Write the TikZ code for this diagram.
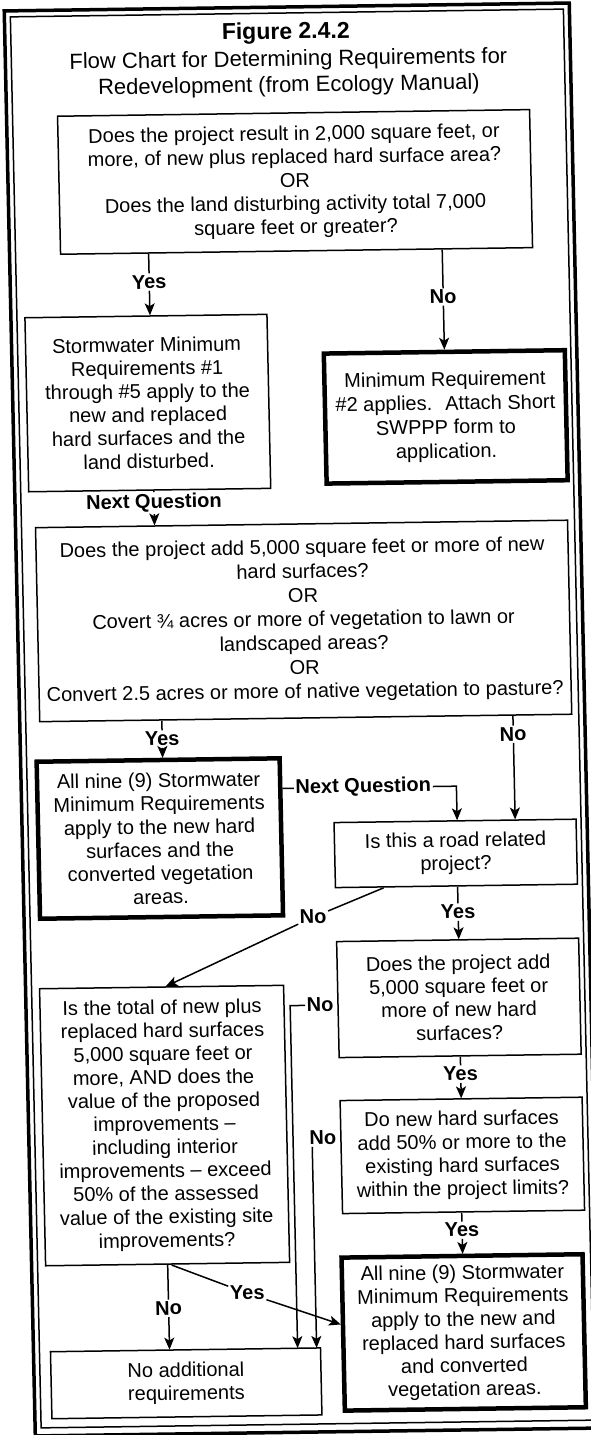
\documentclass[tikz,border=0pt]{standalone}
\usepackage{fontspec}
\setmainfont{Liberation Sans}
\usetikzlibrary{arrows.meta}
\begin{document}
\begin{tikzpicture}[x=1pt,y=-1pt,
  box/.style={draw, line width=1.5pt, align=center, inner sep=0pt, font=\fontsize{20}{23.3}\selectfont},
  tbox/.style={box, line width=4.5pt},
  lbl/.style={font=\bfseries\fontsize{20}{22}\selectfont, inner sep=1.5pt},
  ln/.style={line width=1.5pt},
  arr/.style={ln, -{Stealth[length=12pt,width=10pt,inset=3pt]}},
  ttl/.style={font=\fontsize{22}{26}\selectfont, anchor=base}]
\fill[white] (0,0) rectangle (591,1435);
\useasboundingbox (0,0) rectangle (591,1435);
\begin{scope}[cm={1,0.014,-0.0218,1,(0,0)}, transform shape]
% frame
\draw[line width=3.5pt] (4,11) rectangle (569,1436);
\draw[line width=1.5pt] (10,17) rectangle (563,1428);
% title
\node[ttl, font=\bfseries\fontsize{23}{26}\selectfont] (t1) at (285,43) {Figure 2.4.2};
\node[ttl] (t2) at (287,70) {Flow Chart for Determining Requirements for};
\node[ttl] (t3) at (287,96) {Redevelopment (from Ecology Manual)};
% boxes
\node[box, minimum width=472pt, minimum height=138pt, font=\fontsize{20}{23.4}\selectfont] (q1) at (291,186)
 {Does the project result in 2,000 square feet, or\\ more, of new plus replaced hard surface area?\\ OR\\ Does the land disturbing activity total 7,000\\ square feet or greater?};
\node[box, minimum width=242pt, minimum height=174pt] (r15) at (139,405)
 {Stormwater Minimum\\ Requirements \#1\\ through \#5 apply to the\\ new and replaced\\ hard surfaces and the\\ land disturbed.};
\node[tbox, minimum width=241pt, minimum height=130pt, font=\fontsize{20}{24}\selectfont] (min2) at (436.5,423)
 {Minimum Requirement\\ \#2 applies.~ Attach Short\\ SWPPP form to\\ application.};
\node[box, minimum width=532pt, minimum height=194pt, font=\fontsize{20}{24}\selectfont] (q2) at (290,625)
 {Does the project add 5,000 square feet or more of new\\ hard surfaces?\\ OR\\ Covert ¾ acres or more of vegetation to lawn or\\ landscaped areas?\\ OR\\ Convert 2.5 acres or more of native vegetation to pasture?};
\node[tbox, minimum width=243pt, minimum height=157pt] (all9a) at (141.5,840.5)
 {All nine (9) Stormwater\\ Minimum Requirements\\ apply to the new hard\\ surfaces and the\\ converted vegetation\\ areas.};
\node[box, minimum width=242pt, minimum height=65pt] (road) at (437,859.5)
 {Is this a road related\\ project?};
\node[box, minimum width=242pt, minimum height=116pt] (doesadd) at (437,1004)
 {Does the project add\\ 5,000 square feet or\\ more of new hard\\ surfaces?};
\node[box, minimum width=244pt, minimum height=277pt] (istotal) at (140,1127.5)
 {Is the total of new plus\\ replaced hard surfaces\\ 5,000 square feet or\\ more, AND does the\\ value of the proposed\\ improvements –\\ including interior\\ improvements – exceed\\ 50\% of the assessed\\ value of the existing site\\ improvements?};
\node[box, minimum width=242pt, minimum height=113pt] (donew) at (437,1161.5)
 {Do new hard surfaces\\ add 50\% or more to the\\ existing hard surfaces\\ within the project limits?};
\node[tbox, minimum width=241pt, minimum height=153pt] (all9b) at (434.5,1338.5)
 {All nine (9) Stormwater\\ Minimum Requirements\\ apply to the new and\\ replaced hard surfaces\\ and converted\\ vegetation areas.};
\node[box, minimum width=270pt, minimum height=67pt] (noadd) at (156,1385.5)
 {No additional\\ requirements};
% labels
\node[lbl] (yes1) at (143,284) {Yes};
\node[lbl] (no1) at (436.5,303) {No};
\node[lbl] (nq1) at (143,505) {Next Question};
\node[lbl] (yes2) at (146,741) {Yes};
\node[lbl] (no2) at (497,741) {No};
\node[lbl] (nq2) at (346,792) {Next Question};
\node[lbl] (yes3) at (438,918) {Yes};
\node[lbl] (no3) at (293,921) {No};
\node[lbl] (no4) at (298,1009) {No};
\node[lbl] (yes4) at (437,1080) {Yes};
\node[lbl] (no5) at (298,1142) {No};
\node[lbl] (yes5) at (435,1236) {Yes};
\node[lbl] (no6) at (140,1310) {No};
\node[lbl] (yes6) at (219,1296) {Yes};
\coordinate (n4) at ([xshift=112pt]noadd.north);
\coordinate (n5) at ([xshift=131pt]noadd.north);
% connectors
\draw[ln] (q1.south -| yes1) -- (yes1);
\draw[arr] (yes1) -- (r15.north -| yes1);
\draw[ln] (q1.south -| no1) -- (no1);
\draw[arr] (no1) -- (min2.north);
\draw[ln] (r15.south -| nq1) -- (nq1);
\draw[arr] (nq1) -- (q2.north -| nq1);
\draw[ln] (q2.south -| yes2) -- (yes2);
\draw[arr] (yes2) -- (all9a.north -| yes2);
\draw[ln] (q2.south -| no2) -- (no2);
\draw[arr] (no2) -- (road.north -| no2);
\draw[ln] (all9a.east |- nq2) -- (nq2);
\draw[arr] (nq2) -| ([xshift=2pt]road.north);
\draw[ln] (road.south -| yes3) -- (yes3);
\draw[arr] (yes3) -- (doesadd.north -| yes3);
\draw[arr] ([xshift=-73pt]road.south) -- (no3) -- ([xshift=4pt]istotal.north);
\draw[arr] (no4) -| (n4);
\draw[ln] (doesadd.south -| yes4) -- (yes4);
\draw[arr] (yes4) -- (donew.north -| yes4);
\draw[arr] (no5.south -| n5) -- (n5);
\draw[ln] (donew.south -| yes5) -- (yes5);
\draw[arr] (yes5) -- (all9b.north -| yes5);
\draw[ln] (istotal.south -| no6) -- (no6);
\draw[arr] (no6) -- (noadd.north -| no6);
\draw[arr] ([xshift=4pt]istotal.south) -- (yes6) -- ([yshift=10pt]all9b.west);
\end{scope}
\end{tikzpicture}
\end{document}
